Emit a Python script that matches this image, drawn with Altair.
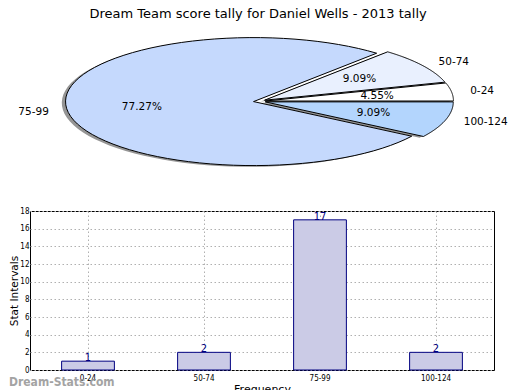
import altair as alt
import pandas as pd

# ---- data ----
categories = ["0-24", "50-74", "75-99", "100-124"]
counts = [1, 2, 17, 2]
slice_colors = ["#ffffff", "#e9f0fe", "#c5d9fd", "#b3d5fd"]
title_text = "Dream Team score tally for Daniel Wells - 2013 tally"
watermark = "Dream-Stats.com"
y_ticks = [0, 2, 4, 6, 8, 10, 12, 14, 16, 18]

# ---- layout / style constants ----
PANEL_W = 464
PIE_H = 160
BAR_H = 159
EXPLODE = 0.032
SHADOW = 0.02
LABEL_DIST = 1.1
PCT_DIST = 0.6
X_DOM = [-1.2207, 1.2473]
Y_DOM = [-1.3391, 1.1609]
NORMAL = "DejaVu Sans"
COND = "DejaVu Sans Condensed"

df = pd.DataFrame({"cat": categories, "n": counts, "idx": list(range(len(categories)))})

xs = alt.Scale(domain=X_DOM, nice=False, zero=False)
ys = alt.Scale(domain=Y_DOM, nice=False, zero=False)
color_scale = alt.Scale(domain=categories, range=slice_colors)

base = (
    alt.Chart(df)
    .transform_joinaggregate(total="sum(n)")
    .transform_window(cum="sum(n)", sort=[alt.SortField("idx")], frame=[None, 0])
    .transform_calculate(a0="2*PI*(datum.cum - datum.n)/datum.total")
    .transform_calculate(a1="2*PI*datum.cum/datum.total")
    .transform_calculate(mid="(datum.a0 + datum.a1)/2")
    .transform_calculate(ex=f"{EXPLODE}*cos(datum.mid)")
    .transform_calculate(ey=f"{EXPLODE}*sin(datum.mid)")
    .transform_calculate(pct="format(100*datum.n/datum.total, '.2f') + '%'")
)

poly = (
    base.transform_calculate(k="sequence(0, 82)")
    .transform_flatten(["k"])
    .transform_calculate(t="clamp((datum.k - 1)/79, 0, 1)")
    .transform_calculate(ang="datum.a0 + (datum.a1 - datum.a0)*datum.t")
    .transform_calculate(isc="datum.k == 0 || datum.k == 81")
    .transform_calculate(px="datum.ex + (datum.isc ? 0 : cos(datum.ang))")
    .transform_calculate(py="datum.ey + (datum.isc ? 0 : sin(datum.ang))")
    .transform_calculate(sx=f"datum.px - {SHADOW}")
    .transform_calculate(sy=f"datum.py - {SHADOW}")
)

shadow = poly.mark_line(filled=True, fill="#7a7a7a", fillOpacity=0.8, strokeWidth=0).encode(
    x=alt.X("sx:Q", scale=xs, axis=None),
    y=alt.Y("sy:Q", scale=ys, axis=None),
    order="k:Q",
    detail="cat:N",
)

wedges = poly.mark_line(filled=True, stroke="black", strokeWidth=1, strokeJoin="miter").encode(
    x=alt.X("px:Q", scale=xs, axis=None),
    y=alt.Y("py:Q", scale=ys, axis=None),
    order="k:Q",
    color=alt.Color("cat:N", scale=color_scale, legend=None),
)

lab = base.transform_calculate(lx=f"datum.ex + {LABEL_DIST}*cos(datum.mid)").transform_calculate(
    ly=f"datum.ey + {LABEL_DIST}*sin(datum.mid)"
)
labels_r = lab.transform_filter("datum.lx > 0").mark_text(
    align="left", baseline="middle", fontSize=10.5, font=NORMAL, color="black"
).encode(x=alt.X("lx:Q", scale=xs, axis=None), y=alt.Y("ly:Q", scale=ys, axis=None), text="cat:N")
labels_l = lab.transform_filter("datum.lx <= 0").mark_text(
    align="right", baseline="middle", fontSize=10.5, font=NORMAL, color="black"
).encode(x=alt.X("lx:Q", scale=xs, axis=None), y=alt.Y("ly:Q", scale=ys, axis=None), text="cat:N")

pcts = (
    base.transform_calculate(qx=f"datum.ex + {PCT_DIST}*cos(datum.mid)")
    .transform_calculate(qy=f"datum.ey + {PCT_DIST}*sin(datum.mid)")
    .mark_text(align="center", baseline="middle", fontSize=10.5, font=NORMAL, color="black")
    .encode(x=alt.X("qx:Q", scale=xs, axis=None), y=alt.Y("qy:Q", scale=ys, axis=None), text="pct:N")
)

pie = alt.layer(shadow, wedges, labels_r, labels_l, pcts).properties(
    width=PANEL_W, height=PIE_H, view=alt.ViewConfig(stroke=None)
)

# ---- bar chart ----
bdf = pd.DataFrame({"cat": categories, "n": counts})
xb = alt.X(
    "cat:N",
    sort=categories,
    scale=alt.Scale(paddingInner=0, paddingOuter=0),
    axis=alt.Axis(
        title="Frequency", labelAngle=0, labelFont=COND, labelFontSize=8, labelColor="black",
        titleFont=NORMAL, titleFontSize=11, titleFontWeight="normal", titleColor="black",
        titlePadding=1, labelPadding=4, ticks=False, domain=False,
        grid=True, gridColor="#b0b0b0", gridDash=[1.5, 2.5], bandPosition=0.5,
    ),
)
yb = alt.Y(
    "n:Q",
    scale=alt.Scale(domain=[0, 18], nice=False),
    axis=alt.Axis(
        title="Stat Intervals", values=y_ticks, tickCount=10, labelOverlap=False,
        labelFont=COND, labelFontSize=8, labelColor="black",
        titleFont=NORMAL, titleFontSize=10.5, titleFontWeight="normal", titleColor="black",
        titlePadding=0, labelPadding=1, ticks=False, domain=False,
        grid=True, gridColor="#b0b0b0", gridDash=[1.5, 2.5],
    ),
)

bars = alt.Chart(bdf).mark_bar(
    width=alt.RelativeBandSize(0.455), fill="#cbcbe6", stroke="#000080", strokeWidth=1
).encode(x=xb, y=yb)

bar_text = alt.Chart(bdf).mark_text(
    baseline="alphabetic", align="center", fontSize=11, font=COND, color="#000080"
).encode(x=xb, y=yb, text="n:Q")

wm = alt.Chart(pd.DataFrame({"t": [watermark]})).mark_text(
    align="left", baseline="alphabetic", fontSize=12, font=COND, fontWeight="bold",
    color="#9a9a9a", opacity=0.9,
).encode(x=alt.value(-21), y=alt.value(175), text="t:N")

bar = alt.layer(bars, bar_text, wm).properties(
    width=PANEL_W, height=BAR_H, view=alt.ViewConfig(stroke="black", strokeWidth=1)
)

chart = (
    alt.vconcat(pie, bar, spacing=19)
    .properties(
        title=alt.TitleParams(
            title_text, fontSize=13, font=NORMAL, fontWeight="normal", anchor="middle",
            offset=6, color="black",
        ),
        padding=0,
    )
    .configure_view(stroke=None)
)

chart.save("out.html", embed_options={"renderer": "svg", "actions": False})
